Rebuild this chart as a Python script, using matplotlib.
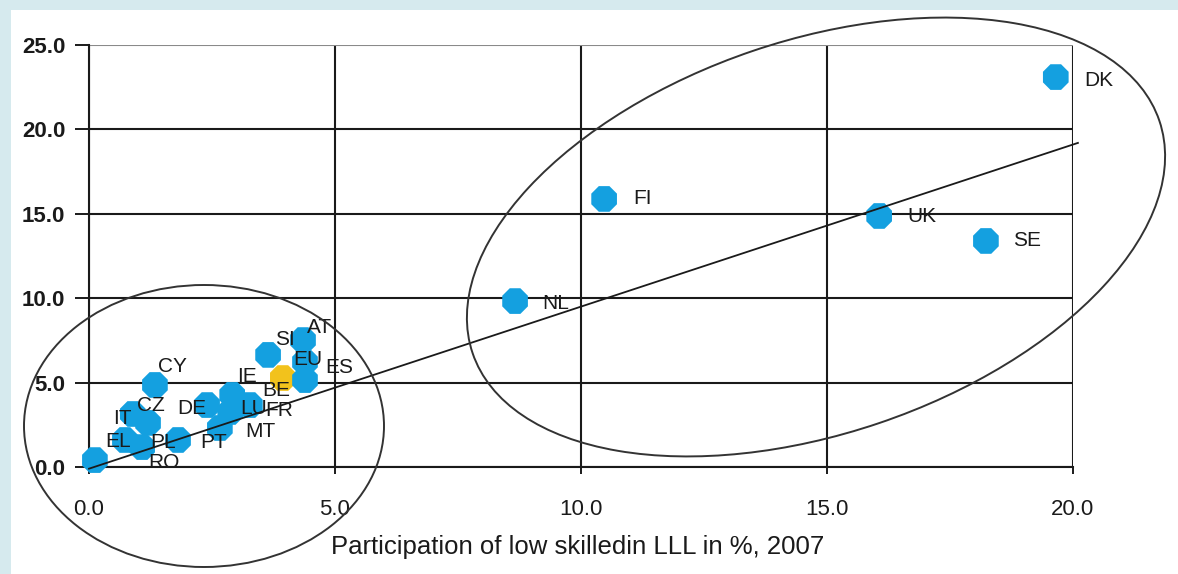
import matplotlib
matplotlib.use("Agg")
import matplotlib.pyplot as plt
from matplotlib.patches import Ellipse, Rectangle
from matplotlib.transforms import IdentityTransform

plt.rcParams['font.family'] = ['Liberation Sans', 'DejaVu Sans']

# ---- data ----
countries = ['RO', 'EL', 'PL', 'PT', 'IT', 'CZ', 'CY', 'DE', 'MT', 'LU', 'IE', 'FR',
             'BE', 'EU', 'ES', 'SI', 'AT', 'NL', 'FI', 'UK', 'SE', 'DK']
low_skilled = [0.12, 0.73, 1.08, 1.81, 0.89, 1.20, 1.34, 2.40, 2.66, 2.87, 2.91, 3.27,
               3.94, 4.39, 4.39, 3.64, 4.35, 8.66, 10.47, 16.06, 18.23, 19.65]
total_part = [0.41, 1.60, 1.18, 1.60, 3.14, 2.61, 4.86, 3.67, 2.31, 3.26, 4.27, 3.67,
              5.27, 6.22, 5.15, 6.64, 7.52, 9.83, 15.88, 14.87, 13.39, 23.10]
highlight = ['BE']
trend_x = [0.0, 20.1]
trend_y = [-0.1, 19.2]
x_ticks = [0, 5, 10, 15, 20]
y_ticks = [0, 5, 10, 15, 20, 25]
x_label = 'Participation of low skilledin LLL in %, 2007'

# label offsets in pixels (dx, dy up)
label_offsets = {
    'DK': (28, -3), 'FI': (29, 0), 'UK': (28, -1), 'SE': (27, 0), 'NL': (27, -2),
    'AT': (4, 13), 'SI': (7, 15), 'EU': (-12, 3), 'BE': (-21, -12), 'ES': (20, 13),
    'IE': (5, 18), 'FR': (15, -5), 'LU': (10, 3), 'MT': (25, -3), 'DE': (-30, -3),
    'CZ': (-11, 17), 'CY': (3, 18), 'IT': (-20, -5), 'EL': (-20, -2), 'PL': (8, 5),
    'RO': (53, -2), 'PT': (22, -3),
}

W, H = 1178, 574
fig = plt.figure(figsize=(W / 100, H / 100), dpi=100)
fig.patch.set_facecolor('#d6eaee')
fig.add_artist(Rectangle((11 / W, 0), 1 - 11 / W, 1 - 10 / H, transform=fig.transFigure,
                         facecolor='white', edgecolor='none', zorder=-5))

ax = fig.add_axes([89 / W, 107 / H, (1073 - 89) / W, (467 - 45) / H])
ax.set_zorder(1)
ax.set_facecolor('white')
ax.set_xlim(0, 20)
ax.set_ylim(0, 25)
ax.set_xticks(x_ticks)
ax.set_xticklabels([f'{v:.1f}' for v in x_ticks])
ax.set_yticks(y_ticks)
ax.set_yticklabels([f'{v:.1f}' for v in y_ticks], fontweight='bold')
ax.grid(True, color='#1a1a1a', lw=1.5, zorder=1)
ax.set_axisbelow(True)
for s in ['top', 'right']:
    ax.spines[s].set_visible(False)
for s in ['left', 'bottom']:
    ax.spines[s].set_color('#1a1a1a')
    ax.spines[s].set_linewidth(1.5)
ygl = ax.yaxis.get_gridlines()
ygl[-1].set_color('#8a8a8a')
ax.tick_params(axis='y', length=10, width=1.4, pad=7, labelsize=16, colors='#1a1a1a')
ax.tick_params(axis='x', length=5, width=1.4, pad=18, labelsize=16, colors='#1a1a1a')

colors = ['#f2c21c' if c in highlight else '#14a0e0' for c in countries]
order = sorted(range(len(countries)), key=lambda i: countries[i] not in highlight)
ax.scatter([low_skilled[i] for i in order], [total_part[i] for i in order],
           c=[colors[i] for i in order], marker='8', s=400,
           edgecolors='none', zorder=3, clip_on=False)

ax.plot(trend_x, trend_y, color='#1a1a1a', lw=1.3, zorder=4, clip_on=False)

for c, x, y in zip(countries, low_skilled, total_part):
    dx, dy = label_offsets[c]
    ax.annotate(c, (x, y), xytext=(dx, dy), textcoords='offset pixels',
                ha='left', va='center', fontsize=15, color='#1a1a1a', zorder=6,
                annotation_clip=False)

fig.text(578 / W, 1 - 547 / H, x_label, ha='center', va='center', fontsize=18.5,
         color='#1a1a1a')

# hand-drawn ellipses (in pixel space)
fig.add_artist(Ellipse((816, H - 237), 725, 393, angle=18.7, transform=IdentityTransform(),
                       fill=False, edgecolor='#333333', lw=1.4, zorder=10))
fig.add_artist(Ellipse((204, H - 426), 360, 282, angle=0, transform=IdentityTransform(),
                       fill=False, edgecolor='#333333', lw=1.4, zorder=10))

fig.savefig('out.png', dpi=100)
